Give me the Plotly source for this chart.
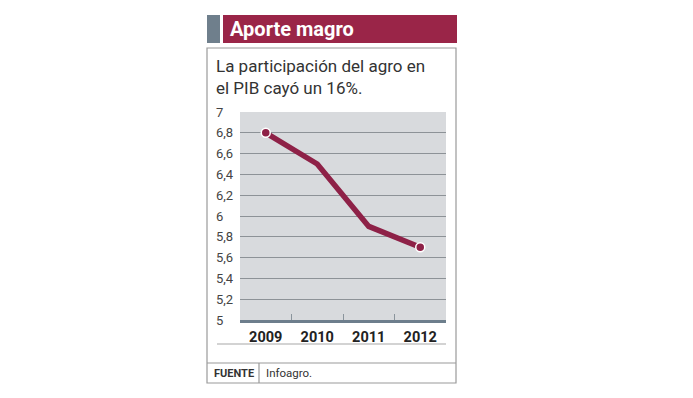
import plotly.graph_objects as go

years = ["2009", "2010", "2011", "2012"]
share = [6.8, 6.5, 5.9, 5.7]
y_ticks = [5, 5.2, 5.4, 5.6, 5.8, 6, 6.2, 6.4, 6.6, 6.8, 7]
y_tick_labels = ["5", "5,2", "5,4", "5,6", "5,8", "6", "6,2", "6,4", "6,6", "6,8", "7"]

W, H = 693, 398
OFF = 8  # page body margin
L, R, T, B = 240, 446, 112, 320

def px(x):
    return (x - L) / (R - L)

def py(y):
    return (B - y) / (B - T)

FONT = "Roboto, Arial"
MAROON = "#8e2147"

fig = go.Figure()
fig.add_trace(go.Scatter(
    x=years, y=share, mode="lines",
    line=dict(color=MAROON, width=5.5),
    hoverinfo="skip", showlegend=False,
))
fig.add_trace(go.Scatter(
    x=[years[0], years[-1]], y=[share[0], share[-1]], mode="markers",
    marker=dict(color=MAROON, size=9, line=dict(color="white", width=1.5)),
    hoverinfo="skip", showlegend=False,
))

shapes = [
    dict(type="rect", xref="paper", yref="paper", x0=px(207), x1=px(456), y0=py(383), y1=py(48),
         line=dict(color="#9a9a9a", width=1.2), fillcolor="rgba(0,0,0,0)", layer="below"),
    dict(type="rect", xref="paper", yref="paper", x0=px(207), x1=px(220), y0=py(43), y1=py(15),
         line=dict(width=0), fillcolor="#6f7f8c"),
    dict(type="rect", xref="paper", yref="paper", x0=px(223), x1=px(457), y0=py(43), y1=py(15),
         line=dict(width=0), fillcolor="#9a2548"),
    dict(type="line", xref="paper", yref="paper", x0=px(217), x1=px(446), y0=py(344), y1=py(344),
         line=dict(color="#a8a8a8", width=1.2)),
    dict(type="line", xref="paper", yref="paper", x0=px(207), x1=px(456), y0=py(363), y1=py(363),
         line=dict(color="#9a9a9a", width=1.2)),
    dict(type="line", xref="paper", yref="paper", x0=px(259), x1=px(259), y0=py(363), y1=py(383),
         line=dict(color="#9a9a9a", width=1.2)),
]

annotations = [
    dict(text="<b>Aporte magro</b>", xref="paper", yref="paper", x=px(228), y=py(29),
         xanchor="left", yanchor="middle", showarrow=False,
         font=dict(family=FONT, size=20, color="white")),
    dict(text="La participación del agro en<br>el PIB cayó un 16%.", xref="paper", yref="paper",
         x=px(214), y=py(54), xanchor="left", yanchor="top", align="left", showarrow=False,
         font=dict(family=FONT, size=17, color="#333333")),
    dict(text="<b>FUENTE</b>", xref="paper", yref="paper", x=px(212), y=py(373),
         xanchor="left", yanchor="middle", showarrow=False,
         font=dict(family=FONT, size=11, color="#333333")),
    dict(text="Infoagro.", xref="paper", yref="paper", x=px(264), y=py(373),
         xanchor="left", yanchor="middle", showarrow=False,
         font=dict(family=FONT, size=11.5, color="#333333")),
]
for v, lab in zip(y_ticks, y_tick_labels):
    annotations.append(dict(text=lab, xref="paper", yref="y", x=px(214), y=v,
                            xanchor="left", yanchor="middle", showarrow=False,
                            font=dict(family=FONT, size=13, color="#444444")))

fig.update_layout(
    width=W, height=H,
    margin=dict(l=L - OFF, r=W - R + OFF, t=T - OFF, b=H - B + OFF, pad=0),
    paper_bgcolor="white", plot_bgcolor="#d8dadd",
    separators=",.",
    shapes=shapes, annotations=annotations,
    xaxis=dict(type="category", range=[-0.5, 3.5], tickson="boundaries",
               ticks="inside", ticklen=6, tickcolor="#8a949c", tickwidth=1,
               showgrid=False, zeroline=False, showline=True, linecolor="#6d7e8c", linewidth=3,
               tickfont=dict(family=FONT, size=14.5, color="#222222"),
               tickprefix="<b>", ticksuffix="</b>", ticklabelstandoff=2),
    yaxis=dict(range=[5, 7], tickvals=y_ticks, showticklabels=False,
               showgrid=True, gridcolor="#8d9297", gridwidth=1, zeroline=False, showline=False),
)

fig.write_html("out.html")
